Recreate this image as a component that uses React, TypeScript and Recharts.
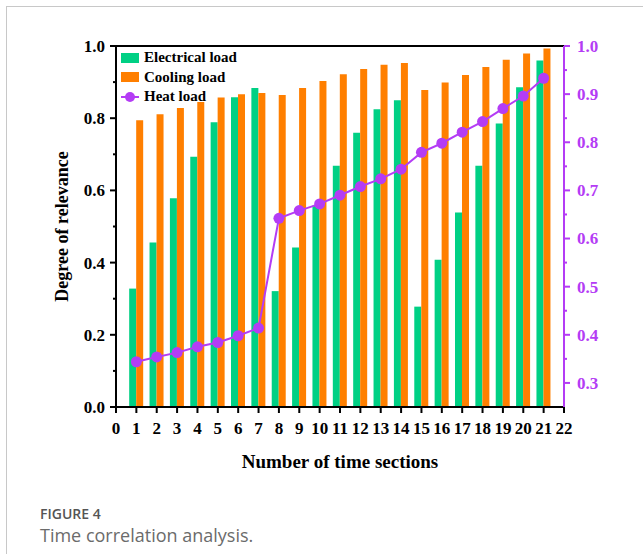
import { ComposedChart, Bar, Line, XAxis, YAxis, ReferenceLine, Legend } from "recharts";

const sections = [1, 2, 3, 4, 5, 6, 7, 8, 9, 10, 11, 12, 13, 14, 15, 16, 17, 18, 19, 20, 21];
const electrical = [0.328, 0.456, 0.578, 0.693, 0.789, 0.858, 0.884, 0.321, 0.442, 0.558, 0.668, 0.76, 0.825, 0.85, 0.278, 0.408, 0.539, 0.668, 0.785, 0.886, 0.96];
const cooling = [0.794, 0.811, 0.828, 0.845, 0.857, 0.866, 0.87, 0.864, 0.884, 0.903, 0.922, 0.936, 0.948, 0.953, 0.878, 0.899, 0.92, 0.942, 0.962, 0.979, 0.993];
const heat = [0.344, 0.354, 0.363, 0.375, 0.384, 0.398, 0.414, 0.642, 0.658, 0.672, 0.69, 0.708, 0.724, 0.744, 0.779, 0.798, 0.821, 0.843, 0.87, 0.896, 0.933];

const xTicks = [0, 1, 2, 3, 4, 5, 6, 7, 8, 9, 10, 11, 12, 13, 14, 15, 16, 17, 18, 19, 20, 21, 22];
const leftTicks = [0, 0.1, 0.2, 0.3, 0.4, 0.5, 0.6, 0.7, 0.8, 0.9, 1.0];
const rightTicks = [0.3, 0.35, 0.4, 0.45, 0.5, 0.55, 0.6, 0.65, 0.7, 0.75, 0.8, 0.85, 0.9, 0.95, 1.0];

const GREEN = "#00d084";
const ORANGE = "#ff7f00";
const PURPLE = "#b43cf5";
const SERIF = '"Liberation Serif", "Times New Roman", serif';

const data = sections.map((t, i) => ({
  t,
  electrical: electrical[i],
  cooling: cooling[i],
  heat: heat[i],
}));

// left axis: major every 0.2 with label, minor in between
const LeftTick = (props: any) => {
  const { x, y, payload } = props;
  const major = Math.round(payload.value * 10) % 2 === 0;
  const ax = x + 5;
  return (
    <g>
      <line x1={ax + (major ? 0 : 3)} x2={ax + 6} y1={y} y2={y} stroke="#000" strokeWidth={2} />
      {major && (
        <text x={x} y={y} dy="0.35em" textAnchor="end" fill="#000" fontSize={17} fontWeight="bold" fontFamily={SERIF}>
          {payload.value.toFixed(1)}
        </text>
      )}
    </g>
  );
};

const RightTick = (props: any) => {
  const { x, y, payload } = props;
  const major = Math.round(payload.value * 20) % 2 === 0;
  const ax = x - 7;
  return (
    <g>
      <line x1={ax - 6} x2={ax - (major ? 0 : 3)} y1={y} y2={y} stroke={PURPLE} strokeWidth={2} />
      {major && (
        <text x={x} y={y} dy="0.35em" textAnchor="start" fill={PURPLE} fontSize={17} fontWeight="bold" fontFamily={SERIF}>
          {payload.value.toFixed(1)}
        </text>
      )}
    </g>
  );
};

const renderLegend = () => (
  <div style={{ fontFamily: SERIF, fontWeight: "bold", fontSize: 15, lineHeight: "19.5px", color: "#000" }}>
    <div style={{ display: "flex", alignItems: "center" }}>
      <span style={{ display: "inline-block", width: 18, height: 10, background: GREEN, marginRight: 5 }} />
      Electrical load
    </div>
    <div style={{ display: "flex", alignItems: "center" }}>
      <span style={{ display: "inline-block", width: 18, height: 10, background: ORANGE, marginRight: 5 }} />
      Cooling load
    </div>
    <div style={{ display: "flex", alignItems: "center" }}>
      <svg width={18} height={12} style={{ marginRight: 5 }}>
        <line x1={0} x2={18} y1={6} y2={6} stroke={PURPLE} strokeWidth={2} />
        <circle cx={9} cy={6} r={5} fill={PURPLE} />
      </svg>
      Heat load
    </div>
  </div>
);

export default function App() {
  return (
    <div style={{ position: "relative", width: 635, height: 538 }}>
      <ComposedChart width={635} height={480} data={data} margin={{ top: 38, right: 0, bottom: 0, left: 0 }} barGap={0}>
        <XAxis
          dataKey="t"
          type="number"
          domain={[0, 22]}
          ticks={xTicks}
          interval={0}
          height={81}
          axisLine={{ stroke: "#000", strokeWidth: 2 }}
          tickLine={{ stroke: "#000", strokeWidth: 2 }}
          tickSize={6}
          tickMargin={9}
          tick={{ fill: "#000", fontSize: 17, fontWeight: "bold", fontFamily: SERIF }}
          label={{
            value: "Number of time sections",
            position: "insideBottom",
            offset: 20,
            style: { fill: "#000", fontSize: 19, fontWeight: "bold", fontFamily: SERIF },
          }}
        />
        <YAxis
          yAxisId="left"
          orientation="left"
          domain={[0, 1]}
          ticks={leftTicks}
          interval={0}
          width={108}
          axisLine={{ stroke: "#000", strokeWidth: 2 }}
          tickLine={false}
          tickSize={6}
          tickMargin={5}
          tick={<LeftTick />}
          label={{
            value: "Degree of relevance",
            angle: -90,
            position: "center",
            style: { fill: "#000", fontSize: 18, fontWeight: "bold", fontFamily: SERIF, textAnchor: "middle" },
          }}
        />
        <YAxis
          yAxisId="right"
          orientation="right"
          domain={[0.25, 1]}
          ticks={rightTicks}
          interval={0}
          width={79}
          axisLine={{ stroke: PURPLE, strokeWidth: 2 }}
          tickLine={false}
          tickSize={6}
          tickMargin={7}
          tick={<RightTick />}
        />
        <ReferenceLine yAxisId="left" y={1} stroke="#000" strokeWidth={2} />
        <Legend
          content={renderLegend}
          layout="horizontal"
          verticalAlign="middle"
          align="center"
          wrapperStyle={{ top: 40, left: 113, width: "auto" }}
        />
        <Bar yAxisId="left" dataKey="electrical" name="Electrical load" fill={GREEN} barSize={7} isAnimationActive={false} />
        <Bar yAxisId="left" dataKey="cooling" name="Cooling load" fill={ORANGE} barSize={7} isAnimationActive={false} />
        <Line
          yAxisId="right"
          dataKey="heat"
          name="Heat load"
          type="linear"
          stroke={PURPLE}
          strokeWidth={2}
          dot={{ r: 5.5, fill: PURPLE, stroke: PURPLE, strokeWidth: 0 }}
          isAnimationActive={false}
        />
      </ComposedChart>
      <div
        style={{
          position: "absolute",
          left: 32,
          top: 496,
          fontFamily: '"Open Sans", sans-serif',
          fontWeight: 600,
          fontSize: 14,
          lineHeight: "normal",
          color: "#555",
        }}
      >
        FIGURE 4
      </div>
      <div
        style={{
          position: "absolute",
          left: 32,
          top: 515,
          fontFamily: '"Open Sans", sans-serif',
          fontSize: 18,
          lineHeight: "normal",
          color: "#6b6b6b",
        }}
      >
        Time correlation analysis.
      </div>
      {/* page frame on the left and top edges */}
      <div
        style={{
          position: "fixed",
          left: 6,
          top: 6,
          width: 1,
          height: 548,
          background: "#c8c8c8",
          zIndex: 10,
          pointerEvents: "none",
        }}
      />
      <div
        style={{
          position: "fixed",
          left: 6,
          top: 6,
          width: 637,
          height: 1,
          background: "#c8c8c8",
          zIndex: 10,
          pointerEvents: "none",
        }}
      />
    </div>
  );
}
